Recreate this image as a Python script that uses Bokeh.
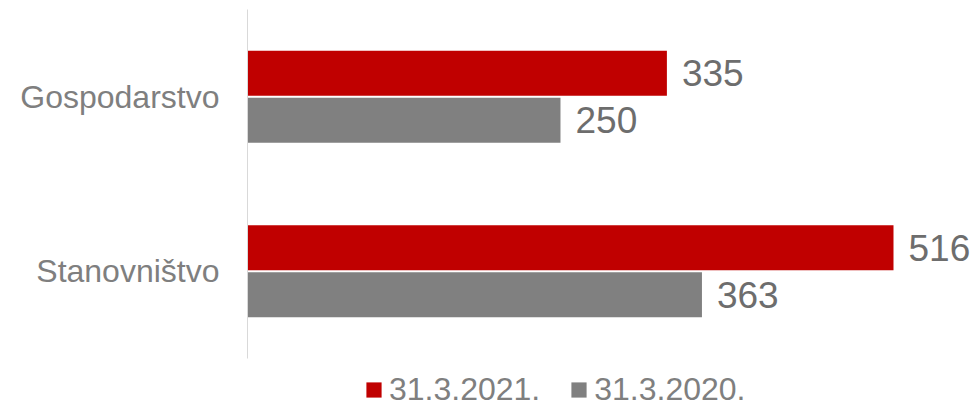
from bokeh.plotting import figure
from bokeh.models import ColumnDataSource, Range1d, Legend, LegendItem, FixedTicker
from bokeh.core.properties import value
from bokeh.embed import file_html
from bokeh.resources import INLINE

categories = ["Gospodarstvo", "Stanovništvo"]
series_names = ["31.3.2021.", "31.3.2020."]
values_2021 = [335, 516]
values_2020 = [250, 363]
colors = ["#C00000", "#808080"]

FONT = "Liberation Sans"
LABEL_COLOR = "#7F7F7F"
VALUE_COLOR = "#6D6D6D"

n = len(categories)
pos = [n - i - 0.5 for i in range(n)]
off = 0.1347
h = 0.258

src = ColumnDataSource(dict(
    cat=categories,
    y1=[y + off for y in pos],
    y2=[y - off for y in pos],
    v2021=values_2021,
    v2020=values_2020,
    l2021=[str(v) for v in values_2021],
    l2020=[str(v) for v in values_2020],
))

p = figure(
    width=976, height=408,
    y_range=Range1d(-0.2865, n),
    x_range=Range1d(0, 582.3),
    output_backend="svg", toolbar_location=None,
    min_border_left=247, min_border_right=0, min_border_top=9, min_border_bottom=0,
)
p.outline_line_color = None
p.xgrid.visible = False
p.ygrid.visible = False
p.xaxis.visible = False

ax = p.yaxis[0]
ax.ticker = FixedTicker(ticks=pos)
ax.major_label_overrides = {y: c for y, c in zip(pos, categories)}
ax.bounds = (0, n)
ax.axis_line_color = "#D9D9D9"
ax.axis_line_width = 1
ax.major_tick_line_color = None
ax.minor_tick_line_color = None
ax.major_tick_out = 0
ax.major_tick_in = 0
ax.major_label_standoff = 28
ax.major_label_text_font = FONT
ax.major_label_text_font_size = "32px"
ax.major_label_text_color = LABEL_COLOR

r1 = p.hbar(y="y1", right="v2021", left=0, height=h,
            source=src, fill_color=colors[0], line_color=None)
r2 = p.hbar(y="y2", right="v2020", left=0, height=h,
            source=src, fill_color=colors[1], line_color=None)

p.text(x="v2021", y="y1", text="l2021", source=src,
       x_offset=15, text_align="left", text_baseline="middle",
       text_font=value(FONT), text_font_size="37px", text_color=VALUE_COLOR)
p.text(x="v2020", y="y2", text="l2020", source=src,
       x_offset=15, text_align="left", text_baseline="middle",
       text_font=value(FONT), text_font_size="37px", text_color=VALUE_COLOR)

legend = Legend(
    items=[LegendItem(label=series_names[0], renderers=[r1]),
           LegendItem(label=series_names[1], renderers=[r2])],
    orientation="horizontal",
    location=(117, 0),
    label_text_font=FONT, label_text_font_size="32px", label_text_color=LABEL_COLOR,
    glyph_width=19, glyph_height=19, label_standoff=6, spacing=29,
    padding=0, margin=0, border_line_color=None, background_fill_alpha=0,
)
p.add_layout(legend, "center")

open("out.html", "w").write(file_html(p, INLINE))
